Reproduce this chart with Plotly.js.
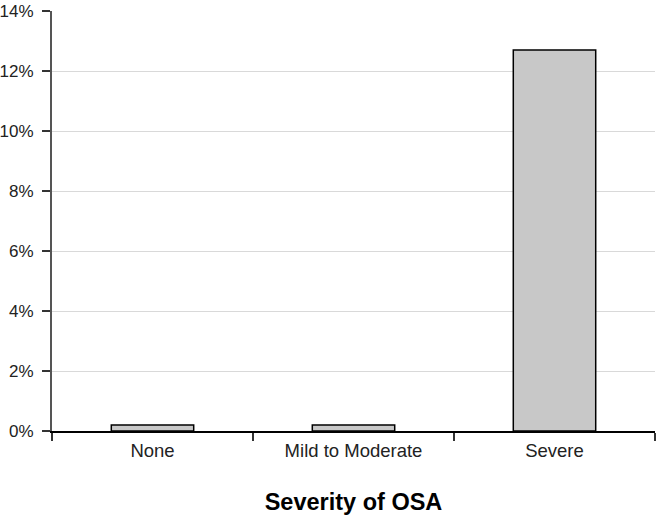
<!DOCTYPE html>
<html><head><meta charset="utf-8">
<script src="https://cdn.plot.ly/plotly-3.0.1.min.js"></script>
<style>html,body{margin:0;padding:0;background:#fff}</style>
</head><body>
<div id="chart" style="width:656px;height:520px"></div>
<script>
var categories = ["None", "Mild to Moderate", "Severe"];
var values = [0.002, 0.002, 0.127];
var yTickVals = [0, 0.02, 0.04, 0.06, 0.08, 0.10, 0.12, 0.14];
var yTickText = ["0%", "2%", "4%", "6%", "8%", "10%", "12%", "14%"];
var xTitle = "Severity of OSA";

var FONT = "Liberation Sans, Arial, sans-serif";
Plotly.newPlot("chart", [{
  type: "bar", x: categories, y: values,
  width: 0.41,
  marker: {color: "#c8c8c8", line: {color: "#000", width: 1.5}},
  hoverinfo: "skip"
}], {
  width: 656, height: 520,
  margin: {l: 52, r: 1, t: 11, b: 89},
  paper_bgcolor: "#fff", plot_bgcolor: "#fff",
  font: {family: FONT, size: 18.5, color: "#222"},
  showlegend: false,
  bargap: 0.59,
  xaxis: {
    type: "category",
    showline: true, linecolor: "#000", linewidth: 1.5,
    ticks: "outside", tickson: "boundaries", ticklen: 8, tickcolor: "#333", tickwidth: 1.5,
    showgrid: false,
    ticklabelstandoff: 2,
    tickfont: {family: FONT, size: 18.5, color: "#222"},
    title: {text: xTitle, font: {family: FONT, size: 23.5, color: "#000", weight: "bold"}, standoff: 34}
  },
  yaxis: {
    range: [0, 0.14], tickvals: yTickVals, ticktext: yTickText,
    showline: true, linecolor: "#555", linewidth: 2,
    ticks: "outside", ticklen: 8, tickcolor: "#333", tickwidth: 1.5,
    showgrid: true, gridcolor: "#d9d9d9", gridwidth: 1,
    zeroline: false,
    ticklabelstandoff: 5,
    ticklabeloverflow: "allow",
    tickfont: {family: FONT, size: 17, color: "#222"}
  }
}, {staticPlot: true});
</script>
</body></html>
